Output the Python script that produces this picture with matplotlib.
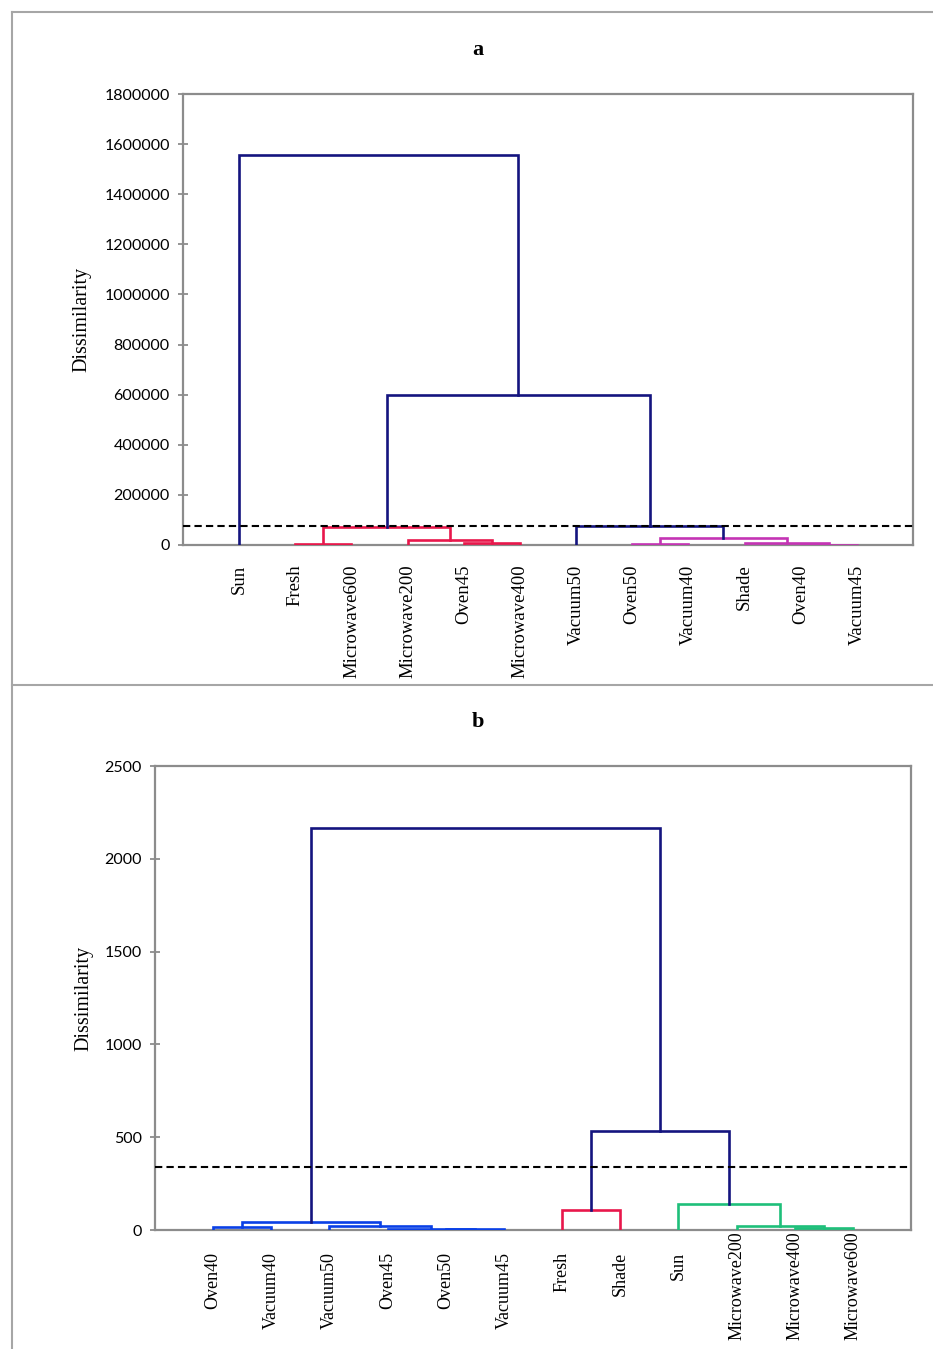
import matplotlib
matplotlib.use("Agg")
import matplotlib.pyplot as plt
from matplotlib.lines import Line2D
from matplotlib.transforms import ScaledTranslation

# panel a data
leaves_a = ["Sun", "Fresh", "Microwave600", "Microwave200", "Oven45", "Microwave400",
            "Vacuum50", "Oven50", "Vacuum40", "Shade", "Oven40", "Vacuum45"]
# merges: (left id, right id, height, cluster); ids >= len(leaves) refer to earlier merges
merges_a = [
    (1, 2, 3000, "red"),
    (4, 5, 9000, "red"),
    (3, 13, 20000, "red"),
    (12, 14, 72000, "red"),
    (7, 8, 3000, "magenta"),
    (10, 11, 1000, "magenta"),
    (9, 17, 8000, "magenta"),
    (16, 18, 28000, "magenta"),
    (6, 19, 77000, "navy"),
    (15, 20, 600000, "navy"),
    (0, 21, 1555000, "navy"),
]
cut_a = 74000
yticks_a = list(range(0, 1800001, 200000))

# panel b data
leaves_b = ["Oven40", "Vacuum40", "Vacuum50", "Oven45", "Oven50", "Vacuum45",
            "Fresh", "Shade", "Sun", "Microwave200", "Microwave400", "Microwave600"]
merges_b = [
    (0, 1, 18, "blue"),
    (4, 5, 3, "blue"),
    (3, 13, 7, "blue"),
    (2, 14, 23, "blue"),
    (12, 15, 41, "blue"),
    (6, 7, 108, "red"),
    (10, 11, 9, "green"),
    (9, 18, 22, "green"),
    (8, 19, 140, "green"),
    (17, 20, 535, "navy"),
    (16, 21, 2165, "navy"),
]
cut_b = 340
yticks_b = list(range(0, 2501, 500))

colors = {
    "navy": "#14147F",
    "red": "#E8174B",
    "magenta": "#C434B4",
    "blue": "#0A40E6",
    "green": "#1EBF7A",
}

SERIF = ["Liberation Serif", "DejaVu Serif"]
TICKFONT = ["Lato", "DejaVu Sans"]
GRAY = "#8C8C8C"


def draw_dendro(ax, leaves, merges, cut, yticks, ylab_x, lab_size, lab_pad):
    n = len(leaves)
    xs = {i: i + 1 for i in range(n)}
    hs = {i: 0 for i in range(n)}
    for k, (l, r, h, c) in enumerate(merges):
        ax.plot([xs[l], xs[l], xs[r], xs[r]], [hs[l], h, h, hs[r]],
                color=colors[c], lw=1.9, solid_joinstyle="miter", zorder=3)
        xs[n + k] = (xs[l] + xs[r]) / 2
        hs[n + k] = h
    ax.axhline(cut, color="black", lw=1.5, ls=(0, (3.5, 2)), zorder=4)
    ax.set_xlim(0, n + 1)
    ax.set_ylim(yticks[0], yticks[-1])
    ax.set_yticks(yticks)
    ax.set_yticklabels([str(t) for t in yticks], fontfamily=TICKFONT, fontsize=11.5)
    ax.set_xticks(range(1, n + 1))
    ax.set_xticklabels(leaves, rotation=90, fontfamily=SERIF, fontsize=lab_size, va="top")
    ax.tick_params(axis="x", length=0, pad=lab_pad)
    ax.tick_params(axis="y", direction="inout", length=7, width=1.3, color=GRAY, pad=6)
    for s in ax.spines.values():
        s.set_color(GRAY)
        s.set_linewidth(1.6)
    ax.set_ylabel("Dissimilarity", fontfamily=SERIF, fontsize=14.5)
    ax.yaxis.set_label_coords(ylab_x, 0.5)


fig = plt.figure(figsize=(9.33, 13.49), dpi=100)
W, H = 933, 1349

ax_a = fig.add_axes([183 / W, 1 - 545 / H, (913 - 183) / W, (545 - 94) / H])
ax_b = fig.add_axes([155 / W, 1 - 1230 / H, (911 - 155) / W, (1230 - 766) / H])

draw_dendro(ax_a, leaves_a, merges_a, cut_a, yticks_a, -0.125, 13.5, 14)
draw_dendro(ax_b, leaves_b, merges_b, cut_b, yticks_b, -0.081, 13, 16)

# long labels in b sit higher, as in the original
shift_up = ScaledTranslation(0, 15 / 72, fig.dpi_scale_trans)
for lbl in ax_b.get_xticklabels():
    if lbl.get_text().startswith("Microwave"):
        lbl.set_transform(lbl.get_transform() + shift_up)

# panel titles sit in the middle of each frame, not over the axes
fig.text(478 / W, 1 - 50 / H, "a", fontfamily=SERIF, fontsize=16, fontweight="bold",
         ha="center", va="center")
fig.text(478 / W, 1 - 722 / H, "b", fontfamily=SERIF, fontsize=16, fontweight="bold",
         ha="center", va="center")

# panel frames
frame = "#A6A6A6"
fig.add_artist(Line2D([12 / W, 12 / W], [0, 1 - 12 / H], color=frame, lw=1.5))
fig.add_artist(Line2D([12 / W, 1], [1 - 12 / H, 1 - 12 / H], color=frame, lw=1.5))
fig.add_artist(Line2D([12 / W, 1], [1 - 685 / H, 1 - 685 / H], color=frame, lw=1.5))

fig.savefig("out.png", dpi=100)
